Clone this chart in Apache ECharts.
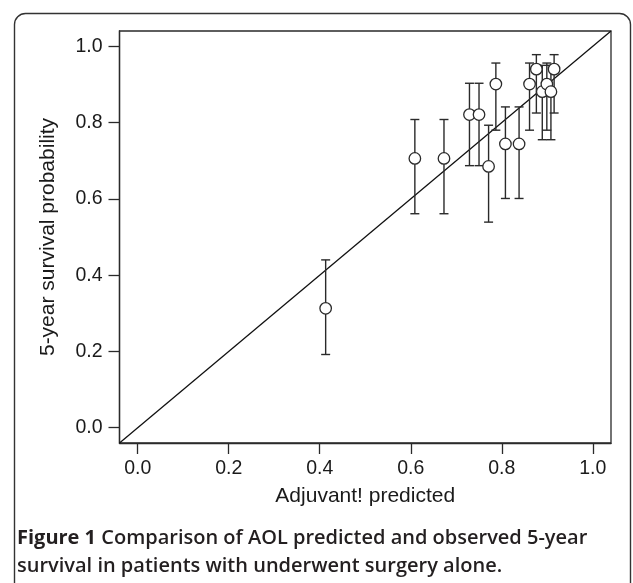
<!DOCTYPE html>
<html>
<head>
<meta charset="utf-8">
<script src="https://cdn.jsdelivr.net/npm/echarts@6/dist/echarts.min.js"></script>
<style>
html,body{margin:0;padding:0;background:#fff;}
#main{width:633px;height:583px;}
</style>
</head>
<body>
<div id="main"></div>
<script>
// Adjuvant! predicted (x) vs observed 5-year survival (y) with CI
const predicted = [0.413, 0.609, 0.673, 0.729, 0.750, 0.771, 0.787, 0.808, 0.838, 0.861, 0.876, 0.889, 0.899, 0.908, 0.915];
const observed  = [0.313, 0.706, 0.706, 0.821, 0.821, 0.685, 0.901, 0.744, 0.744, 0.901, 0.940, 0.881, 0.901, 0.881, 0.940];
const ciLower   = [0.192, 0.561, 0.561, 0.687, 0.687, 0.539, 0.780, 0.601, 0.601, 0.780, 0.825, 0.755, 0.780, 0.755, 0.825];
const ciUpper   = [0.440, 0.808, 0.808, 0.903, 0.903, 0.793, 0.956, 0.841, 0.841, 0.956, 0.978, 0.950, 0.956, 0.950, 0.978];
const tickValues = [0.0, 0.2, 0.4, 0.6, 0.8, 1.0];
const axisMin = -0.04, axisMax = 1.04;
const refLine = [[axisMin, axisMin], [axisMax, axisMax]];
const xAxisName = 'Adjuvant! predicted';
const yAxisName = '5-year survival probability';
const captionBold = 'Figure 1';
const captionLine1 = ' Comparison of AOL predicted and observed 5-year';
const captionLine2 = 'survival in patients with underwent surgery alone.';

const points = predicted.map((x, i) => [x, observed[i]]);
const bars = predicted.map((x, i) => [x, ciLower[i], ciUpper[i]]);

const chart = echarts.init(document.getElementById('main'), null, {renderer: 'canvas'});
const ink = '#2a2a2a';
const axisFont = 'Liberation Sans, Arial, sans-serif';
const capFont = 'Open Sans, sans-serif';

function axisCommon(name, isX) {
  return {
    type: 'value',
    min: axisMin,
    max: axisMax,
    name: name,
    nameLocation: 'middle',
    nameGap: isX ? 43 : 61,
    nameTextStyle: {fontFamily: axisFont, fontSize: 21, color: '#1a1a1a'},
    axisLine: {show: true, onZero: false, lineStyle: {color: ink, width: 1.3}},
    axisTick: {show: true, length: 11, inside: false, customValues: tickValues, lineStyle: {color: ink, width: 1.3}},
    axisLabel: {show: true, customValues: tickValues, fontFamily: axisFont, fontSize: 19.5, color: '#1a1a1a',
      margin: isX ? 16 : 17, formatter: v => v.toFixed(1)},
    splitLine: {show: false}
  };
}

chart.setOption({
  animation: false,
  backgroundColor: '#fff',
  grid: {left: 119.5, right: 22, top: 31, bottom: 140, show: true, borderColor: ink, borderWidth: 1.3, backgroundColor: 'transparent'},
  xAxis: axisCommon(xAxisName, true),
  yAxis: axisCommon(yAxisName, false),
  graphic: [
    {type: 'rect', shape: {x: 14.5, y: 13.5, width: 616, height: 640, r: 11}, style: {fill: 'none', stroke: '#333', lineWidth: 1.4}, silent: true},
    {type: 'text', left: 17, top: 528, style: {
      text: '{b|' + captionBold + '}{n|' + captionLine1 + '}',
      rich: {
        b: {fontFamily: capFont, fontWeight: 'bold', fontSize: 20, fill: '#231f20'},
        n: {fontFamily: capFont, fontWeight: 600, fontSize: 20, fill: '#231f20'}
      }
    }},
    {type: 'text', left: 17, top: 556, style: {
      text: captionLine2, fontFamily: capFont, fontWeight: 600, fontSize: 20, fill: '#231f20'
    }}
  ],
  series: [
    {type: 'line', data: refLine, showSymbol: false, symbol: 'none', lineStyle: {color: '#111', width: 1.3}, z: 2, silent: true},
    {type: 'custom', data: bars, z: 3, silent: true,
      renderItem: function (params, api) {
        const x = api.value(0);
        const lo = api.coord([x, api.value(1)]);
        const hi = api.coord([x, api.value(2)]);
        const cw = 4.5;
        const st = {stroke: ink, lineWidth: 1.4, fill: 'none'};
        return {type: 'group', children: [
          {type: 'line', shape: {x1: lo[0], y1: lo[1], x2: hi[0], y2: hi[1]}, style: st},
          {type: 'line', shape: {x1: lo[0] - cw, y1: lo[1], x2: lo[0] + cw, y2: lo[1]}, style: st},
          {type: 'line', shape: {x1: hi[0] - cw, y1: hi[1], x2: hi[0] + cw, y2: hi[1]}, style: st}
        ]};
      }
    },
    {type: 'scatter', data: points, symbol: 'circle', symbolSize: 11.5, z: 4, silent: true,
      itemStyle: {color: '#fff', borderColor: ink, borderWidth: 1.3, opacity: 1}}
  ]
});
</script>
</body>
</html>
